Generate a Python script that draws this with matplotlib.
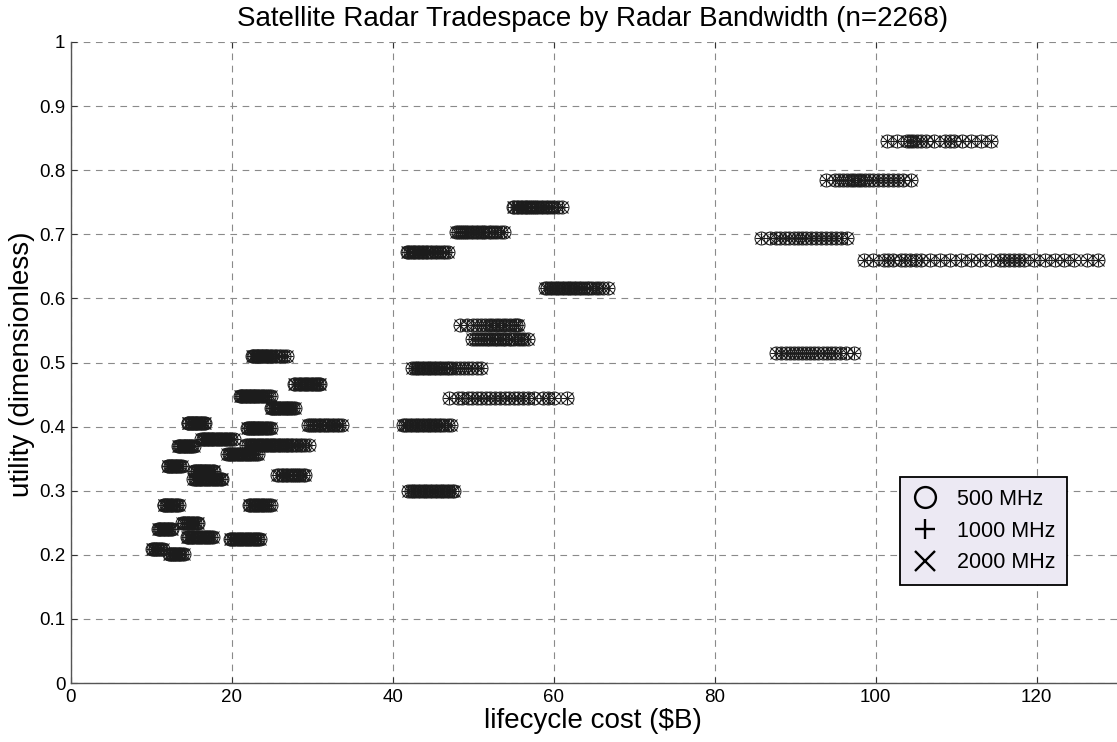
import matplotlib
matplotlib.use("Agg")
import matplotlib.pyplot as plt
from matplotlib.lines import Line2D
import numpy as np

plt.rcParams['font.family'] = ['Liberation Sans', 'DejaVu Sans']

# ---- lifecycle cost ($B) of the designs on each utility level ----
# low-cost tier
cost_u510 = [22.5, 22.6, 22.8, 23.0, 23.1, 23.3, 23.4, 23.6, 23.8, 23.9, 24.1, 24.2, 24.4, 24.6, 24.8, 25.0, 25.3, 25.5, 25.8, 26.1, 26.5, 26.9]
cost_u466 = [27.7, 27.9, 28.2, 28.4, 28.6, 28.9, 29.1, 29.3, 29.5, 29.8, 30.0, 30.2, 30.4, 30.6, 30.8, 31.0]
cost_u448 = [21.0, 21.1, 21.3, 21.4, 21.6, 21.8, 21.9, 22.1, 22.3, 22.4, 22.6, 22.8, 22.9, 23.1, 23.3, 23.5, 23.7, 23.9, 24.1, 24.3, 24.6, 24.8]
cost_u429 = [24.8, 25.0, 25.1, 25.3, 25.4, 25.6, 25.8, 25.9, 26.1, 26.3, 26.5, 26.7, 26.9, 27.0, 27.2, 27.4, 27.6, 27.8]
cost_u406 = [14.5, 14.6, 14.7, 14.9, 15.0, 15.1, 15.3, 15.4, 15.5, 15.7, 15.8, 16.0, 16.1, 16.3, 16.5, 16.7]
cost_u398 = [21.9, 22.0, 22.2, 22.3, 22.5, 22.6, 22.8, 22.9, 23.1, 23.3, 23.4, 23.6, 23.8, 24.0, 24.2, 24.4, 24.6, 24.8]
cost_u402 = [29.4, 29.7, 30.0, 30.2, 30.5, 30.8, 31.0, 31.3, 31.6, 31.8, 32.1, 32.4, 32.7, 33.0, 33.3, 33.7]
cost_u381 = [16.2, 16.4, 16.5, 16.7, 16.9, 17.0, 17.2, 17.4, 17.5, 17.7, 17.9, 18.1, 18.3, 18.5, 18.7, 18.9, 19.1, 19.3, 19.5, 19.7, 19.9, 20.2]
cost_u370 = [13.3, 13.4, 13.6, 13.7, 13.9, 14.0, 14.2, 14.3, 14.5, 14.6, 14.8, 14.9, 15.1, 15.3]
cost_u371 = [21.8, 22.0, 22.2, 22.4, 22.6, 22.8, 23.0, 23.2, 23.4, 23.6, 23.8, 24.0, 24.2, 24.4, 24.6, 24.8, 25.0, 25.2, 25.4, 25.7, 25.9, 26.1, 26.3, 26.6, 26.8, 27.0, 27.3, 27.5, 27.8, 28.1, 28.4, 28.7, 29.1, 29.6]
cost_u357 = [19.4, 19.6, 19.8, 19.9, 20.1, 20.3, 20.5, 20.7, 20.9, 21.1, 21.3, 21.5, 21.7, 21.9, 22.1, 22.3, 22.5, 22.8, 23.0, 23.3]
cost_u339 = [12.0, 12.1, 12.3, 12.4, 12.6, 12.7, 12.9, 13.0, 13.2, 13.4, 13.6, 13.8]
cost_u330 = [15.3, 15.4, 15.6, 15.7, 15.9, 16.0, 16.2, 16.3, 16.5, 16.7, 16.8, 17.0, 17.2, 17.4, 17.6, 17.8]
cost_u318 = [15.2, 15.4, 15.5, 15.7, 15.9, 16.0, 16.2, 16.4, 16.6, 16.8, 17.0, 17.2, 17.4, 17.6, 17.8, 18.0, 18.2, 18.4, 18.6, 18.8]
cost_u325 = [25.6, 25.9, 26.2, 26.4, 26.7, 26.9, 27.2, 27.5, 27.7, 28.0, 28.2, 28.5, 28.8, 29.1]
cost_u278a = [11.5, 11.6, 11.8, 11.9, 12.1, 12.3, 12.4, 12.6, 12.8, 13.0, 13.2, 13.4]
cost_u278b = [22.1, 22.3, 22.5, 22.7, 22.9, 23.1, 23.3, 23.5, 23.7, 23.9, 24.1, 24.4, 24.6, 24.9]
cost_u249 = [13.8, 14.0, 14.1, 14.3, 14.5, 14.6, 14.8, 15.0, 15.2, 15.4, 15.6, 15.8]
cost_u241 = [10.8, 10.9, 11.1, 11.2, 11.4, 11.5, 11.7, 11.9, 12.0, 12.2, 12.4, 12.6]
cost_u228 = [14.4, 14.6, 14.7, 14.9, 15.1, 15.2, 15.4, 15.6, 15.8, 16.0, 16.2, 16.4, 16.6, 16.8, 17.0, 17.2, 17.4, 17.6]
cost_u224 = [19.7, 19.9, 20.1, 20.3, 20.5, 20.7, 20.9, 21.1, 21.3, 21.5, 21.7, 21.9, 22.1, 22.3, 22.5, 22.7, 22.9, 23.1, 23.3, 23.5]
cost_u209 = [10.1, 10.2, 10.4, 10.5, 10.7, 10.8, 11.0, 11.2, 11.4]
cost_u202 = [12.2, 12.3, 12.5, 12.6, 12.8, 12.9, 13.1, 13.3, 13.4, 13.6, 13.8, 14.0]

# mid-cost tier
cost_u742 = [54.9, 55.1, 55.4, 55.6, 55.9, 56.1, 56.4, 56.6, 56.8, 57.1, 57.3, 57.6, 57.8, 58.1, 58.4, 58.7, 59.0, 59.3, 59.7, 60.0, 60.5, 61.0]
cost_u704 = [47.8, 48.1, 48.3, 48.6, 48.9, 49.1, 49.4, 49.7, 50.0, 50.3, 50.6, 50.9, 51.2, 51.5, 51.9, 52.2, 52.6, 53.0, 53.4, 53.8]
cost_u672 = [41.7, 41.9, 42.1, 42.4, 42.6, 42.8, 43.1, 43.3, 43.6, 43.8, 44.1, 44.3, 44.6, 44.9, 45.2, 45.5, 45.8, 46.2, 46.5, 46.9]
cost_u617 = [58.9, 59.2, 59.5, 59.8, 60.1, 60.4, 60.7, 61.0, 61.3, 61.6, 61.9, 62.2, 62.5, 62.8, 63.1, 63.4, 63.7, 64.1, 64.4, 64.8, 65.2, 65.6, 66.1, 66.7]
cost_u559 = [48.4, 49.2, 49.9, 50.5, 51.0, 51.4, 51.9, 52.3, 52.8, 53.2, 53.7, 54.1, 54.6, 55.0, 55.3, 55.6]
cost_u536 = [49.8, 50.2, 50.6, 51.0, 51.3, 51.7, 52.0, 52.3, 52.7, 53.0, 53.3, 53.7, 54.0, 54.4, 54.7, 55.1, 55.5, 55.9, 56.3, 56.8]
cost_u491 = [42.4, 42.7, 43.0, 43.3, 43.6, 43.9, 44.2, 44.5, 44.8, 45.1, 45.4, 45.7, 46.0, 46.3, 46.7, 47.0, 47.4, 47.8, 48.3, 48.8, 49.3, 49.8, 50.4, 50.9]
cost_u444 = [47.0, 48.1, 48.6, 49.3, 49.8, 50.5, 51.0, 51.6, 52.1, 52.7, 53.3, 53.9, 54.4, 55.0, 55.6, 56.2, 56.8, 57.5, 58.7, 59.3, 60.0, 61.7]
cost_u403 = [41.2, 41.5, 41.8, 42.1, 42.4, 42.7, 43.0, 43.3, 43.6, 43.9, 44.2, 44.5, 44.8, 45.1, 45.4, 45.7, 46.0, 46.4, 46.8, 47.2]
cost_u300 = [41.9, 42.2, 42.5, 42.8, 43.1, 43.4, 43.7, 44.0, 44.3, 44.6, 44.9, 45.2, 45.5, 45.8, 46.1, 46.4, 46.7, 47.0, 47.3, 47.6]

# high-cost tier
cost_u846 = [101.4, 102.6, 103.9, 104.3, 104.7, 105.1, 105.6, 106.2, 107.3, 108.6, 109.2, 109.7, 110.7, 111.8, 113.1, 114.4]
cost_u785 = [93.8, 94.9, 95.5, 96.0, 96.4, 96.9, 97.3, 97.8, 98.2, 98.7, 99.2, 99.7, 100.3, 100.9, 101.5, 102.1, 102.8, 103.4, 104.4]
cost_u695 = [85.8, 86.9, 87.6, 88.1, 88.7, 89.2, 89.8, 90.3, 90.9, 91.4, 92.0, 92.6, 93.2, 93.8, 94.4, 95.1, 95.7, 96.4]
cost_u660 = [98.5, 99.7, 101.0, 101.6, 102.1, 103.1, 103.6, 104.3, 105.0, 105.6, 106.8, 108.0, 109.3, 110.6, 111.8, 113.0, 114.3, 115.4, 116.0, 116.6, 117.2, 117.8, 118.4, 119.7, 121.0, 122.3, 123.4, 124.7, 126.3, 127.7]
cost_u515 = [87.6, 88.3, 88.9, 89.4, 89.9, 90.4, 90.9, 91.4, 91.9, 92.4, 92.9, 93.4, 93.9, 94.4, 95.0, 95.6, 96.3, 97.3]

# utility level of each row of designs
utility_levels = [0.510, 0.466, 0.448, 0.429, 0.406, 0.398, 0.402, 0.381, 0.370, 0.371,
                  0.357, 0.3385, 0.330, 0.318, 0.3245, 0.278, 0.278, 0.249, 0.241, 0.228,
                  0.224, 0.2085, 0.202,
                  0.742, 0.704, 0.672, 0.617, 0.5585, 0.536, 0.491, 0.444, 0.4025, 0.300,
                  0.846, 0.785, 0.695, 0.660, 0.515]
cost_rows = [cost_u510, cost_u466, cost_u448, cost_u429, cost_u406, cost_u398, cost_u402,
             cost_u381, cost_u370, cost_u371, cost_u357, cost_u339, cost_u330, cost_u318,
             cost_u325, cost_u278a, cost_u278b, cost_u249, cost_u241, cost_u228, cost_u224,
             cost_u209, cost_u202,
             cost_u742, cost_u704, cost_u672, cost_u617, cost_u559, cost_u536, cost_u491,
             cost_u444, cost_u403, cost_u300,
             cost_u846, cost_u785, cost_u695, cost_u660, cost_u515]

bandwidths = ['500 MHz', '1000 MHz', '2000 MHz']
band_markers = ['o', '+', 'x']

x_ticks = [0, 20, 40, 60, 80, 100, 120]
y_ticks = [0, 0.1, 0.2, 0.3, 0.4, 0.5, 0.6, 0.7, 0.8, 0.9, 1]
y_tick_labels = ['0', '0.1', '0.2', '0.3', '0.4', '0.5', '0.6', '0.7', '0.8', '0.9', '1']

cost = np.concatenate([np.asarray(c, float) for c in cost_rows])
utility = np.concatenate([np.full(len(c), u) for u, c in zip(utility_levels, cost_rows)])

W, H = 1117, 742
fig = plt.figure(figsize=(W / 100, H / 100), dpi=100)
ax = fig.add_axes([71 / W, 1 - 683 / H, (W - 71) / W, (683 - 42) / H])

ink = '#1c1c1c'
for mk in band_markers:
    ax.plot(cost, utility, linestyle='none', marker=mk, markersize=9.3,
            markerfacecolor='none', markeredgecolor=ink, markeredgewidth=0.75)

ax.set_xlim(0, 130)
ax.set_ylim(0, 1)
ax.set_xticks(x_ticks)
ax.set_yticks(y_ticks)
ax.set_yticklabels(y_tick_labels)
ax.grid(True, linestyle=(0, (6, 5)), color='#8a8a8a', linewidth=0.8)
ax.set_axisbelow(True)
ax.tick_params(direction='in', length=4, width=0.8, labelsize=13.5,
               top=True, right=False, pad=4, colors='#333333', labelcolor='black')
for side in ('top', 'right'):
    ax.spines[side].set_visible(False)
for side in ('left', 'bottom'):
    ax.spines[side].set_color('#555555')
    ax.spines[side].set_linewidth(1.0)

fig.text(593 / W, 1 - 19 / H, 'Satellite Radar Tradespace by Radar Bandwidth (n=2268)',
         ha='center', va='center', fontsize=20)
fig.text(593 / W, 1 - 721 / H, 'lifecycle cost ($B)', ha='center', va='center', fontsize=20)
fig.text(22 / W, 1 - 364 / H, 'utility (dimensionless)', ha='center', va='center',
         rotation=90, fontsize=20)

handles = [Line2D([], [], linestyle='none', marker=mk, markersize=15,
                  markerfacecolor='none', markeredgecolor='black', markeredgewidth=1.7)
           for mk in band_markers]
leg = ax.legend(handles, bandwidths, loc='upper left',
                bbox_to_anchor=(900 / W, 1 - 477 / H), bbox_transform=fig.transFigure,
                fontsize=15.5, frameon=True, fancybox=False, framealpha=1,
                facecolor='#ece9f3', edgecolor='black', handlelength=1.2,
                handletextpad=0.9, labelspacing=0.5, borderpad=0.55, borderaxespad=0)
leg.get_frame().set_linewidth(1.3)

fig.savefig('out.png', dpi=100)
